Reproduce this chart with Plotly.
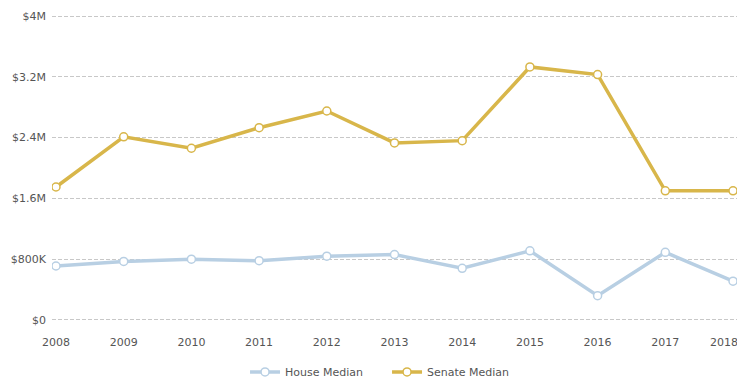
import plotly.graph_objects as go

years = [2008, 2009, 2010, 2011, 2012, 2013, 2014, 2015, 2016, 2017, 2018]
house_median = [710000, 770000, 800000, 780000, 840000, 860000, 680000, 910000, 320000, 890000, 510000]
senate_median = [1750000, 2410000, 2260000, 2530000, 2750000, 2330000, 2360000, 3330000, 3230000, 1700000, 1700000]
y_tick_vals = [0, 800000, 1600000, 2400000, 3200000, 4000000]
y_tick_text = ["$0", "$800K", "$1.6M", "$2.4M", "$3.2M", "$4M"]

font_family = "DejaVu Sans, Verdana, sans-serif"
house_color = "#B8CFE3"
senate_color = "#D8B64A"
x_range = [2007.941, 2018.059]

fig = go.Figure()
fig.add_trace(go.Scatter(
    x=years, y=house_median, name="House Median", mode="lines+markers",
    line=dict(color=house_color, width=3.5),
    marker=dict(symbol="circle", size=8, color="white", line=dict(color=house_color, width=1.5)),
    legend="legend", xaxis="x", yaxis="y",
))
fig.add_trace(go.Scatter(
    x=years, y=senate_median, name="Senate Median", mode="lines+markers",
    line=dict(color=senate_color, width=3.5),
    marker=dict(symbol="circle", size=8, color="white", line=dict(color=senate_color, width=1.5)),
    legend="legend2", xaxis="x2", yaxis="y",
))

legend_common = dict(orientation="h", xanchor="left", y=-0.158, yanchor="middle",
                     font=dict(size=11, color="#555555"), bgcolor="rgba(0,0,0,0)")
xaxis_common = dict(range=x_range, showgrid=False, zeroline=False, showline=False, ticks="",
                    ticklabelstandoff=11, ticklabeloverflow="allow", automargin=False,
                    tickfont=dict(size=11, color="#555555"))

fig.update_layout(
    width=737, height=370,
    margin=dict(l=44, r=8, t=5, b=55, autoexpand=False),
    paper_bgcolor="white", plot_bgcolor="white",
    font=dict(family=font_family, size=11, color="#555555"),
    showlegend=True,
    legend=dict(x=0.2818, **legend_common),
    legend2=dict(x=0.4891, **legend_common),
    xaxis=dict(tickvals=years[:-1], ticktext=[str(y) for y in years[:-1]], **xaxis_common),
    xaxis2=dict(tickvals=years[-1:], ticktext=[str(y) for y in years[-1:]],
                overlaying="x", anchor="y", side="bottom", ticklabelshift=-9, **xaxis_common),
    yaxis=dict(range=[-40000, 4040000], tickvals=y_tick_vals, ticktext=y_tick_text,
               showgrid=True, gridcolor="#C8C8C8", griddash="4px,2px", gridwidth=1,
               zeroline=False, showline=False, ticks="", ticklabelstandoff=5,
               ticklabeloverflow="allow", automargin=False,
               tickfont=dict(size=11, color="#555555")),
)

fig.write_html("out.html")
